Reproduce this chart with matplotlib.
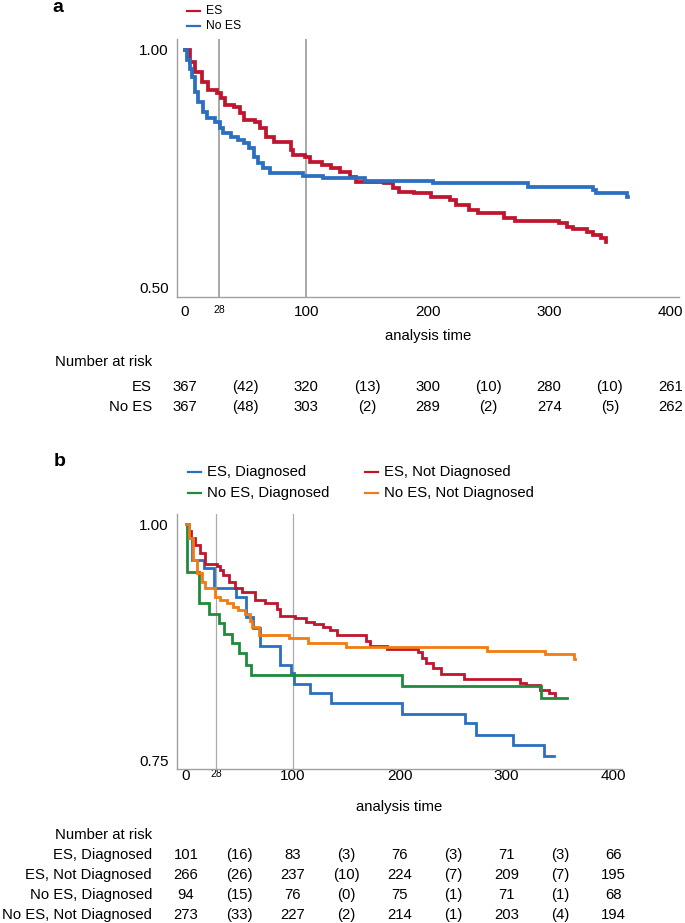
import matplotlib
matplotlib.use("Agg")
import matplotlib.pyplot as plt
from matplotlib.lines import Line2D
from matplotlib.transforms import blended_transform_factory

plt.rcParams['font.family'] = ['Liberation Sans', 'DejaVu Sans']

# --- Panel a data (Kaplan-Meier steps) ---
es_t = [0, 4, 8, 14, 19, 26, 30, 33, 40, 45, 49, 58, 62, 67, 73, 87, 89, 99, 103, 113,
        120, 128, 136, 141, 164, 171, 176, 189, 203, 218, 223, 234, 241, 263, 272, 308,
        315, 320, 331, 336, 343, 347]
es_v = [1.0, 0.975, 0.954, 0.933, 0.916, 0.909, 0.899, 0.884, 0.881, 0.867, 0.853, 0.849,
        0.836, 0.818, 0.806, 0.79, 0.779, 0.776, 0.765, 0.758, 0.751, 0.744, 0.734, 0.723,
        0.720, 0.709, 0.702, 0.699, 0.692, 0.685, 0.674, 0.664, 0.658, 0.646, 0.641, 0.637,
        0.629, 0.623, 0.618, 0.611, 0.604, 0.597]
noes_t = [0, 2, 4, 6, 8, 11, 15, 18, 25, 29, 31, 38, 44, 49, 53, 57, 60, 64, 70, 97, 114,
          148, 204, 283, 336, 339, 364]
noes_v = [1.0, 0.979, 0.96, 0.944, 0.912, 0.891, 0.87, 0.857, 0.849, 0.836, 0.825, 0.818,
          0.811, 0.804, 0.793, 0.776, 0.762, 0.751, 0.741, 0.735, 0.730, 0.724, 0.720,
          0.713, 0.705, 0.700, 0.692]
end_a = [347, 365]

risk_a_labels = ['ES', 'No ES']
risk_a = [[367, 320, 300, 280, 261], [367, 303, 289, 274, 262]]
cens_a = [[42, 13, 10, 10], [48, 2, 2, 5]]

# --- Panel b data ---
dx_t = [0, 3, 6, 17, 26, 47, 56, 63, 69, 88, 98, 101, 116, 136, 202, 261, 271, 306, 335]
dx_v = [1.0, 0.985, 0.962, 0.953, 0.932, 0.923, 0.902, 0.89, 0.871, 0.851, 0.842, 0.831,
        0.821, 0.81, 0.799, 0.789, 0.776, 0.766, 0.754]
ndx_t = [0, 2, 5, 8, 13, 18, 29, 32, 35, 40, 46, 52, 65, 74, 85, 88, 102, 112, 120, 128,
         135, 141, 168, 172, 188, 217, 221, 225, 231, 239, 260, 313, 318, 331, 340, 345]
ndx_v = [1.0, 0.993, 0.985, 0.978, 0.969, 0.958, 0.956, 0.951, 0.946, 0.939, 0.932, 0.928,
         0.92, 0.916, 0.91, 0.903, 0.9, 0.896, 0.894, 0.891, 0.888, 0.882, 0.876, 0.871,
         0.868, 0.864, 0.858, 0.853, 0.847, 0.841, 0.836, 0.832, 0.829, 0.824, 0.821, 0.817]
nodx_t = [0, 1, 12, 22, 31, 36, 43, 50, 56, 61, 202, 332]
nodx_v = [1.0, 0.949, 0.916, 0.905, 0.895, 0.884, 0.874, 0.863, 0.851, 0.84, 0.828, 0.816]
nondx_t = [0, 3, 7, 10, 15, 18, 27, 32, 38, 44, 49, 55, 60, 62, 68, 96, 114, 150, 282, 336, 363]
nondx_v = [1.0, 0.985, 0.962, 0.948, 0.939, 0.932, 0.923, 0.919, 0.916, 0.912, 0.909, 0.905,
           0.897, 0.891, 0.882, 0.879, 0.874, 0.870, 0.866, 0.862, 0.857]
end_b = [344, 345, 357, 364]

risk_b_labels = ['ES, Diagnosed', 'ES, Not Diagnosed', 'No ES, Diagnosed', 'No ES, Not Diagnosed']
risk_b = [[101, 83, 76, 71, 66], [266, 237, 224, 209, 195],
          [94, 76, 75, 71, 68], [273, 227, 214, 203, 194]]
cens_b = [[16, 3, 3, 3], [26, 10, 7, 7], [15, 0, 1, 1], [33, 2, 1, 4]]

RED = '#c0152f'
BLUE = '#2a6fc0'
GREEN = '#1f8a3b'
ORANGE = '#f27b12'
GREY = '#a0a0a0'

W, H = 685, 923
fig = plt.figure(figsize=(W / 100, H / 100), dpi=100)


def fy(y):
    return 1 - y / H


def add_panel(left, right, top, bottom, xlim, ylim):
    ax = fig.add_axes([left / W, fy(bottom), (right - left) / W, (bottom - top) / H])
    ax.set_xlim(*xlim)
    ax.set_ylim(*ylim)
    for s in ['top', 'right']:
        ax.spines[s].set_visible(False)
    for s in ['left', 'bottom']:
        ax.spines[s].set_color(GREY)
        ax.spines[s].set_linewidth(1.0)
    ax.set_xticks([0, 100, 200, 300, 400])
    ax.set_xticks([28], minor=True)
    ax.set_xticklabels(['28'], minor=True)
    ax.tick_params(which='both', length=0)
    ax.tick_params(axis='x', which='minor', labelsize=7.5)
    ax.tick_params(axis='x', which='major', labelsize=11)
    ax.tick_params(axis='y', labelsize=11, pad=6)
    return ax


def km(ax, t, v, t_end, color, lw):
    ax.step(list(t) + [t_end], list(v) + [v[-1]], where='post', color=color, lw=lw,
            solid_joinstyle='miter', zorder=3)


def legend_item(x, y, label, color, size):
    fig.add_artist(Line2D([x / W, (x + 13) / W], [fy(y), fy(y)], color=color, lw=1.6))
    fig.text((x + 19) / W, fy(y), label, fontsize=size, va='center', ha='left')


def risk_table(ax, title_y, row_y, labels, risk, cens):
    tr = blended_transform_factory(ax.transData, fig.transFigure)
    fig.text(152 / W, fy(title_y), 'Number at risk', fontsize=10.7, ha='right', va='center')
    for i, lab in enumerate(labels):
        y = fy(row_y[i])
        fig.text(152 / W, y, lab, fontsize=10.7, ha='right', va='center')
        for j, n in enumerate(risk[i]):
            ax.text(j * 100, y, str(n), transform=tr, fontsize=10.7, ha='center', va='center')
        for j, c in enumerate(cens[i]):
            ax.text(j * 100 + 50, y, '(%d)' % c, transform=tr, fontsize=10.7,
                    ha='center', va='center')


# ---------------- panel a ----------------
ax_a = add_panel(177, 679, 39, 297, (-6.6, 407), (0.481, 1.023))
ax_a.set_yticks([0.5, 1.0])
ax_a.set_yticklabels(['0.50', '1.00'])
ax_a.tick_params(axis='x', which='both', pad=6)
for xv in [28, 100]:
    ax_a.axvline(xv, color='#9a9a9a', lw=1.2, zorder=1)
km(ax_a, es_t, es_v, end_a[0], RED, 2.7)
km(ax_a, noes_t, noes_v, end_a[1], BLUE, 2.7)
ax_a.set_xlabel('analysis time', fontsize=10.7, labelpad=7)

fig.text(58 / W, fy(7), 'a', fontsize=14, fontweight='bold', ha='center', va='center')
legend_item(187, 11, 'ES', RED, 8.7)
legend_item(187, 26, 'No ES', BLUE, 8.7)
risk_table(ax_a, 362, [387, 407], risk_a_labels, risk_a, cens_a)

# ---------------- panel b ----------------
ax_b = add_panel(177, 622, 514, 769, (-8.4, 408), (0.7405, 1.0106))
ax_b.set_yticks([0.75, 1.0])
ax_b.set_yticklabels(['0.75', '1.00'])
ax_b.tick_params(axis='x', which='both', pad=0)
for xv in [28, 100]:
    ax_b.axvline(xv, color='#aaaaaa', lw=0.9, zorder=1)
km(ax_b, dx_t, dx_v, end_b[0], BLUE, 2.0)
km(ax_b, ndx_t, ndx_v, end_b[1], RED, 2.0)
km(ax_b, nodx_t, nodx_v, end_b[2], GREEN, 2.0)
km(ax_b, nondx_t, nondx_v, end_b[3], ORANGE, 2.0)
ax_b.set_xlabel('analysis time', fontsize=10.7, labelpad=12)

fig.text(60 / W, fy(461), 'b', fontsize=14, fontweight='bold', ha='center', va='center')
legend_item(188, 472, 'ES, Diagnosed', BLUE, 10.7)
legend_item(365, 472, 'ES, Not Diagnosed', RED, 10.7)
legend_item(188, 493, 'No ES, Diagnosed', GREEN, 10.7)
legend_item(365, 493, 'No ES, Not Diagnosed', ORANGE, 10.7)
risk_table(ax_b, 835, [855, 875, 895, 915], risk_b_labels, risk_b, cens_b)

fig.savefig('out.png', dpi=100)
